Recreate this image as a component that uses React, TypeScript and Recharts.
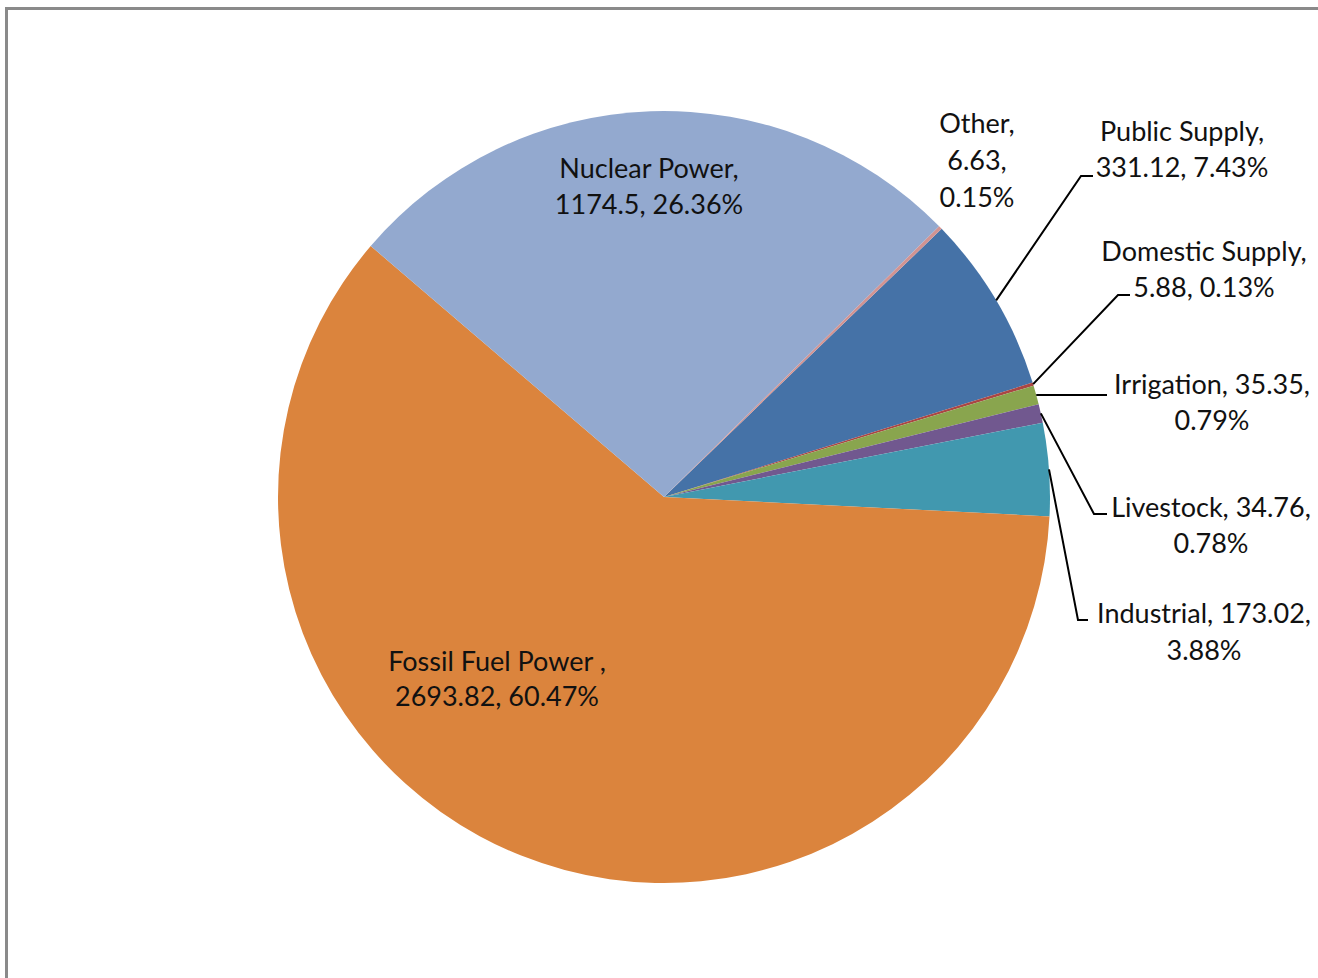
import React from 'react';
import { PieChart, Pie, Cell } from 'recharts';

const categories = [
  'Public Supply',
  'Domestic Supply',
  'Irrigation',
  'Livestock',
  'Industrial',
  'Fossil Fuel Power ',
  'Nuclear Power',
  'Other',
];
const withdrawals = [331.12, 5.88, 35.35, 34.76, 173.02, 2693.82, 1174.5, 6.63];
const sliceColors = ['#4572A7', '#AA4643', '#89A54E', '#71588F', '#4198AF', '#DB843D', '#93A9CF', '#D19392'];

const data = categories.map((name, i) => ({ name, value: withdrawals[i] }));

type Layout = {
  tx: number;
  ty: number;
  lh: number;
  split: 'name' | 'value' | 'each';
  elbow?: [number, number];
  endX?: number;
};

// label block positions relative to the pie centre
const labelLayout: Record<string, Layout> = {
  'Public Supply': { tx: 518, ty: -367, lh: 36, split: 'name', elbow: [417, -321], endX: 429 },
  'Domestic Supply': { tx: 540, ty: -247, lh: 36, split: 'name', elbow: [454, -202], endX: 466 },
  Irrigation: { tx: 548, ty: -114, lh: 36, split: 'value', endX: 443 },
  Livestock: { tx: 547, ty: 9, lh: 36, split: 'value', elbow: [430, 17], endX: 443 },
  Industrial: { tx: 540, ty: 115, lh: 37, split: 'value', elbow: [414, 123], endX: 424 },
  'Fossil Fuel Power ': { tx: -167, ty: 163, lh: 35, split: 'name' },
  'Nuclear Power': { tx: -15, ty: -330, lh: 36, split: 'name' },
  Other: { tx: 313, ty: -375, lh: 37, split: 'each' },
};

const RAD = Math.PI / 180;
const FONT = 'Lato, "Open Sans", sans-serif';

function renderLabel(props: any) {
  const { cx, cy, midAngle, outerRadius, name, value, percent } = props;
  const L = labelLayout[name];
  if (!L) return null;
  const pct = (percent * 100).toFixed(2) + '%';
  const v = String(value);
  let lines: string[];
  if (L.split === 'name') lines = [`${name},`, `${v}, ${pct}`];
  else if (L.split === 'value') lines = [`${name}, ${v},`, pct];
  else lines = [`${name},`, `${v},`, pct];

  const sx = cx + outerRadius * Math.cos(-midAngle * RAD);
  const sy = cy + outerRadius * Math.sin(-midAngle * RAD);
  let leader: React.ReactNode = null;
  if (L.endX !== undefined) {
    let pts: string;
    if (L.elbow) {
      const ex = cx + L.elbow[0];
      const ey = cy + L.elbow[1];
      pts = `${sx},${sy} ${ex},${ey} ${cx + L.endX},${ey}`;
    } else {
      pts = `${sx},${sy} ${cx + L.endX},${sy}`;
    }
    leader = <polyline points={pts} fill="none" stroke="#000" strokeWidth={2} />;
  }
  return (
    <g key={`lbl-${name}`}>
      {leader}
      <text
        x={cx + L.tx}
        y={cy + L.ty}
        textAnchor="middle"
        dominantBaseline="central"
        fill="#111"
        style={{ fontFamily: FONT, fontSize: 27 }}
      >
        {lines.map((ln, i) => (
          <tspan key={i} x={cx + L.tx} y={cy + L.ty + i * L.lh}>
            {ln}
          </tspan>
        ))}
      </text>
    </g>
  );
}

export default function App() {
  return (
    <div
      style={{
        position: 'fixed',
        left: 0,
        top: 0,
        width: 1318,
        height: 978,
        overflow: 'hidden',
        background: '#fff',
      }}
    >
      <div
        style={{
          position: 'absolute',
          left: 5,
          top: 7,
          width: 1400,
          height: 1100,
          borderTop: '3px solid #8a8a8a',
          borderLeft: '3px solid #8a8a8a',
        }}
      />
      <div style={{ position: 'absolute', left: 0, top: 0 }}>
        <PieChart width={1318} height={978} margin={{ top: 0, right: 0, bottom: 0, left: 0 }}>
          <Pie
            data={data}
            dataKey="value"
            nameKey="name"
            cx={664}
            cy={497}
            outerRadius={386}
            startAngle={44}
            endAngle={-316}
            stroke="none"
            isAnimationActive={false}
            label={renderLabel}
            labelLine={false}
          >
            {data.map((d, i) => (
              <Cell key={d.name} fill={sliceColors[i]} />
            ))}
          </Pie>
        </PieChart>
      </div>
    </div>
  );
}
